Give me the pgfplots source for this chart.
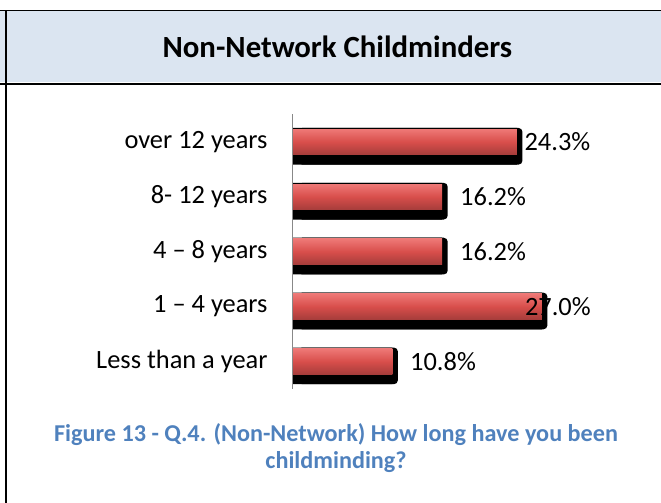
\documentclass[border=0pt]{standalone}
\usepackage{pgfplots}
\pgfplotsset{compat=1.18}
\usepackage{pgfplotstable}
\usepackage{fontspec}
\setmainfont{Carlito}
\definecolor{hdrblue}{HTML}{DBE5F1}
\definecolor{capblue}{HTML}{4F81BD}
\definecolor{axgray}{HTML}{888888}
\definecolor{barTop}{HTML}{EE7876}
\definecolor{barMid}{HTML}{D84E4B}
\definecolor{barBot}{HTML}{A63D3B}

% bar values (y = category index, bottom to top)
\pgfplotstableread{
y val
0 10.8
1 27.0
2 16.2
3 16.2
4 24.3
}\bardata
% data labels: lx = where the label text starts (Excel clamps long ones)
\pgfplotstableread{
y lx val
0 12.71 10.8
1 25.15 27.0
2 18.13 16.2
3 18.13 16.2
4 25.10 24.3
}\labeldata

\begin{document}
\begin{tikzpicture}[x=1bp,y=1bp]
\useasboundingbox (0,0) rectangle (661,503);
\fill[hdrblue] (0,420.5) rectangle (661,492);
\draw[line width=1.3bp] (0,492.5) -- (661,492.5);
\draw[line width=2.3bp] (0,419.3) -- (661,419.3);
\draw[line width=2bp] (5.7,0) -- (5.7,492.5);
\node[anchor=base, inner sep=0pt, font=\bfseries\fontsize{30.8bp}{36bp}\selectfont] at (337.4,445) {Non-Network Childminders};
\node[anchor=base, inner sep=0pt, text=capblue, font=\bfseries\fontsize{24.2bp}{28bp}\selectfont] at (336,61) {Figure 13 - Q.4. (Non-Network) How long have you been};
\node[anchor=base, inner sep=0pt, text=capblue, font=\bfseries\fontsize{24.2bp}{28bp}\selectfont] at (336,34.5) {childminding?};

\begin{axis}[
  at={(292.7bp,141.5bp)}, anchor=origin,
  x=9.23bp, y=54.9bp,
  xmin=0, xmax=30, ymin=-0.5, ymax=4.5,
  axis x line=none,
  axis y line*=left,
  y axis line style={-, draw=axgray, line width=1bp},
  ytick={0,1,2,3,4},
  yticklabels={Less than a year, 1 -- 4 years, 4 -- 8 years, 8- 12 years, over 12 years},
  major tick length=0pt,
  yticklabel style={font=\fontsize{26.4bp}{30bp}\selectfont, anchor=east, inner sep=0pt, xshift=-25bp},
  /pgf/number format/assume math mode=true,
  clip=false,
  axis on top,
]
% shadow
\addplot[xbar, bar width=36.7bp, bar shift=-4.4bp, fill=black, draw=none, xshift=5.5bp, rounded corners=4bp] table[x=val,y=y]{\bardata};
\addplot[xbar, bar width=36.7bp, bar shift=-4.4bp, fill=black, draw=none] table[x=val,y=y]{\bardata};
% red bars, one plot per bar so that each gets its own gradient
\pgfplotsinvokeforeach{0,1,2,3,4}{
\addplot[xbar, bar width=25.5bp, bar shift=0bp, draw=none,
  top color=barTop, bottom color=barBot, middle color=barMid,
  restrict y to domain=#1:#1] table[x=val,y=y]{\bardata};
}
% data labels
\addplot[draw=none, mark=none, point meta=explicit,
  nodes near coords={\pgfmathprintnumber[fixed,fixed zerofill,precision=1]{\pgfplotspointmeta}\%},
  nodes near coords align={anchor=west},
  every node near coord/.append style={font=\fontsize{26.4bp}{30bp}\selectfont, inner sep=0pt, anchor=west, text=black}]
  table[x=lx,y=y,meta=val]{\labeldata};
\end{axis}
\end{tikzpicture}
\end{document}
